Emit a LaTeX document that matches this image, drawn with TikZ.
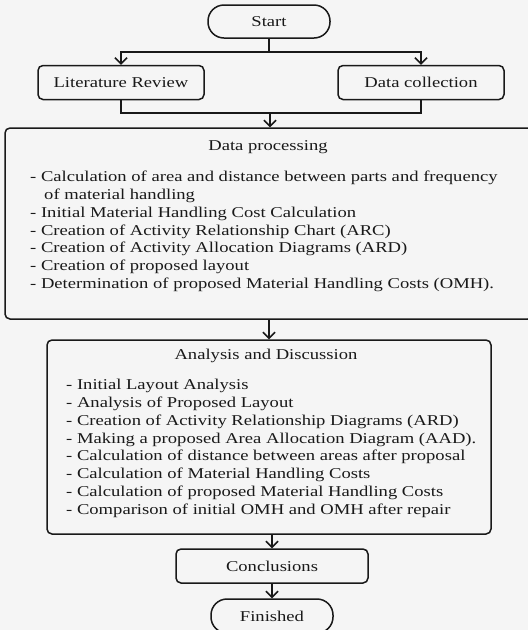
\documentclass[tikz,border=0pt]{standalone}
\usepackage{fontspec}
\setmainfont{Liberation Serif}[FakeStretch=1.24]
\usepackage{xcolor}
\usepackage{tikz}
\usetikzlibrary{arrows.meta,shapes,positioning,calc}
\definecolor{flowbg}{RGB}{245,245,245}
\definecolor{flowline}{RGB}{25,25,25}

\begin{document}
\begin{tikzpicture}[x=1pt, y=-1pt,
    every node/.style={font=\fontsize{15}{17.8}\selectfont, text=flowline},
    box/.style={draw=flowline, line width=1.5pt, rounded corners=5pt, fill=flowbg, inner sep=0pt},
    term/.style={box, rounded corners=16pt},
    arr/.style={-{Straight Barb[length=6pt, width=12pt, line width=1.5pt]}},
    link/.style={draw=flowline, line width=1.5pt}]
    % Page
    \useasboundingbox (0,0) rectangle (528,630);
    \clip (0,0) rectangle (528,630);
    \fill[flowbg] (0,0) rectangle (528,630);

    % Boxes
    \node[term, minimum width=122pt, minimum height=33pt] (start) at (269,21.5) {Start};
    \node[box, minimum width=166pt, minimum height=34pt] (litrev) at (121,82.5) {Literature Review};
    \node[box, minimum width=166pt, minimum height=34pt] (datacol) at (421,82.5) {Data collection};
    \node[box, minimum width=528pt, minimum height=191pt] (proc) at (269,223.5) {};
    \node[box, minimum width=444pt, minimum height=194pt] (anlys) at (269,437) {};
    \node[box, minimum width=192pt, minimum height=34pt] (concl) at (272,566) {Conclusions};
    \node[term, minimum width=122pt, minimum height=34pt] (finish) at (272,616) {Finished};

    % Box texts
    \node (proctitle) at (268,147) {Data processing};
    \node[anchor=north west, align=left, inner sep=0pt] (proclist) at (30,171) {%
        - Calculation of area and distance between parts and frequency\\
        \hspace{14pt}of material handling\\
        - Initial Material Handling Cost Calculation\\
        - Creation of Activity Relationship Chart (ARC)\\
        - Creation of Activity Allocation Diagrams (ARD)\\
        - Creation of proposed layout\\
        - Determination of proposed Material Handling Costs (OMH).};
    \node (anlystitle) at (266,356) {Analysis and Discussion};
    \node[anchor=north west, align=left, inner sep=0pt] (anlyslist) at (66,379) {%
        - Initial Layout Analysis\\
        - Analysis of Proposed Layout\\
        - Creation of Activity Relationship Diagrams (ARD)\\
        - Making a proposed Area Allocation Diagram (AAD).\\
        - Calculation of distance between areas after proposal\\
        - Calculation of Material Handling Costs\\
        - Calculation of proposed Material Handling Costs\\
        - Comparison of initial OMH and OMH after repair};

    % Connectors
    \coordinate (split) at (269,52);
    \coordinate (merge) at (270,113);
    \draw[link] (start.south) -- (split);
    \draw[link, arr] (split) -| (litrev.north);
    \draw[link, arr] (split) -| (datacol.north);
    \draw[link] (litrev.south) |- (merge);
    \draw[link] (datacol.south) |- (merge);
    \draw[link, arr] (merge) -- (merge |- proc.north);
    \draw[link, arr] (proc.south) -- (anlys.north);
    \draw[link, arr] (anlys.south -| concl.north) -- (concl.north);
    \draw[link, arr] (concl.south) -- (finish.north);
\end{tikzpicture}
\end{document}
